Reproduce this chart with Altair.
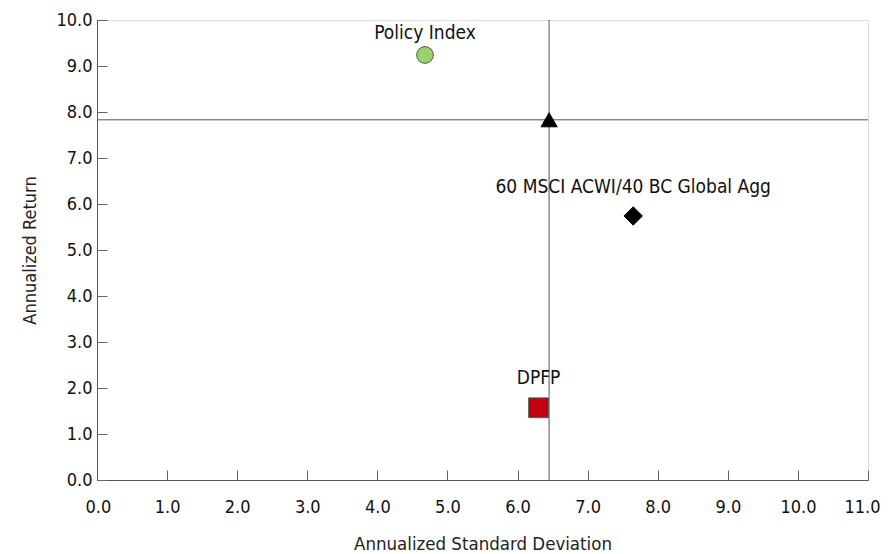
import altair as alt
import pandas as pd

names = ["Policy Index", "60 MSCI ACWI/40 BC Global Agg", "DPFP", "Median"]
std_dev = [4.68, 7.65, 6.30, 6.45]
returns = [9.24, 5.74, 1.57, 7.83]
show_label = [True, True, True, False]

# styles (not data)
shapes = ["circle", "diamond", "square", "triangle-up"]
fills = ["#99D36E", "#000000", "#C00010", "#000000"]
strokes = ["#555555", "#000000", "#555555", "#000000"]
sizes = [280, 340, 390, 260]
label_dy = [-22, -29, -30, 0]

x_ticks = [float(v) for v in range(0, 12)]
y_ticks = [float(v) for v in range(0, 11)]

df = pd.DataFrame({"name": names, "sd": std_dev, "ret": returns})

FONT = "DejaVu Sans Condensed"
xs = alt.Scale(domain=[0, 11], nice=False, zero=False)
ys = alt.Scale(domain=[0, 10], nice=False, zero=False)

base = alt.Chart(df)

axes_layer = base.mark_point(opacity=0).encode(
    x=alt.X("sd:Q", scale=xs, axis=alt.Axis(
        title="Annualized Standard Deviation", values=x_ticks, format=".1f",
        ticks=False, grid=False, domain=True, domainColor="#555555",
        labelFlush=True, labelFlushOffset=12,
        labelFont=FONT, labelFontSize=18, labelColor="#111111", labelPadding=18,
        titleFont=FONT, titleFontSize=18.5, titleFontWeight="normal", titleColor="#222222",
        titlePadding=18)),
    y=alt.Y("ret:Q", scale=ys, axis=alt.Axis(
        title="Annualized Return", values=y_ticks, format=".1f",
        ticks=False, grid=False, domain=True, domainColor="#555555", labelFlush=False,
        labelFont=FONT, labelFontSize=18, labelColor="#111111", labelPadding=5,
        titleFont=FONT, titleFontSize=18, titleFontWeight="normal", titleColor="#222222",
        titlePadding=16)),
)

# inward ticks via opposite-oriented axes shifted to the other side
tick_layer = base.mark_point(opacity=0).encode(
    x=alt.X("sd:Q", scale=xs, axis=alt.Axis(
        orient="top", offset=-460, values=x_ticks, labels=False, title=None,
        domain=False, grid=False, ticks=True, tickSize=10, tickColor="#666666")),
    y=alt.Y("ret:Q", scale=ys, axis=alt.Axis(
        orient="right", offset=-771, values=y_ticks, labels=False, title=None,
        domain=False, grid=False, ticks=True, tickSize=10, tickColor="#666666")),
)

med = df[df["name"] == "Median"]
vline = alt.Chart(med).mark_rule(color="#555555", strokeWidth=1).encode(
    x=alt.X("sd:Q", scale=xs, axis=None))
hline = alt.Chart(med).mark_rule(color="#555555", strokeWidth=1).encode(
    y=alt.Y("ret:Q", scale=ys, axis=None))

marks = []
for n, shp, fc, sc, sz, d, s in zip(names, shapes, fills, strokes, sizes, label_dy, show_label):
    sub = alt.Chart(df[df["name"] == n])
    marks.append(sub.mark_point(shape=shp, filled=True, fill=fc, stroke=sc, strokeWidth=1,
                                size=sz, opacity=1).encode(
        x=alt.X("sd:Q", scale=xs, axis=None), y=alt.Y("ret:Q", scale=ys, axis=None)))
    if s:
        marks.append(sub.mark_text(
            dy=d, font=FONT, fontSize=19, color="#111111", align="center", baseline="middle"
        ).encode(
            x=alt.X("sd:Q", scale=xs, axis=None), y=alt.Y("ret:Q", scale=ys, axis=None),
            text="name:N"))

chart = alt.layer(axes_layer, tick_layer, vline, hline, *marks).resolve_axis(
    x="independent", y="independent"
).properties(
    width=771, height=460,
    autosize=alt.AutoSizeParams(type="none"),
    padding={"left": 89, "top": 12, "right": 12, "bottom": 74},
).configure_view(stroke="#555555", strokeWidth=1).configure(background="white")

chart.save("out.html", embed_options={"renderer": "svg", "actions": False})
